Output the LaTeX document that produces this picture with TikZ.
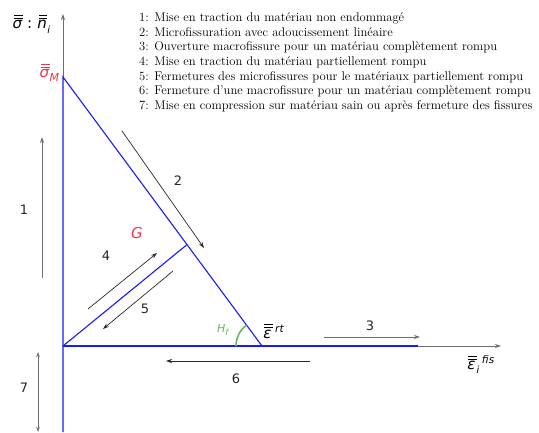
\documentclass[tikz,border=0pt]{standalone}
\usepackage{fontspec}
\newfontfamily\dvs{DejaVu Sans}
\usetikzlibrary{arrows.meta,calc}
\definecolor{bl}{RGB}{25,25,250}
\definecolor{rd}{RGB}{235,55,75}
\definecolor{gr}{RGB}{100,185,80}
\definecolor{ax}{RGB}{110,110,110}
\definecolor{ar}{RGB}{40,40,40}
\newcommand\dd[1]{\leavevmode\vbox{\offinterlineskip\halign{\hfil##\hfil\cr
  \hskip0.15em\rule{0.55em}{0.055em}\cr\noalign{\kern0.11em}
  \hskip0.15em\rule{0.55em}{0.055em}\cr\noalign{\kern0.15em}
  \itshape #1\cr}}}
\newcommand\sbx[2]{\hbox{\fontsize{#1}{#1}\selectfont\itshape #2}}
\begin{document}
\begin{tikzpicture}[x=1pt,y=-1pt,
  curve/.style={draw=bl,line width=1.1pt},
  axis/.style={draw=ax,line width=0.8pt,-{Stealth[length=6pt,width=4pt]}},
  mv/.style={draw=ar,line width=0.7pt,-{Stealth[length=6pt,width=4pt]}},
  mvg/.style={draw=ax,line width=0.9pt,-{Stealth[length=6pt,width=4pt]}},
  num/.style={font=\dvs\fontsize{13}{15}\selectfont,text=black!85,inner sep=0pt},
  leg/.style={font=\fontsize{12.6}{14}\selectfont,anchor=base west,inner sep=0pt},
  lab/.style={font=\dvs\fontsize{15}{17}\selectfont,inner sep=0pt}]
\useasboundingbox (0,0) rectangle (539,433);
% key points
\coordinate (O) at (63,346);
\coordinate (M) at (63,77);
\coordinate (R) at (262,346);
\coordinate (Gp) at (187,244.6);
\coordinate (Hend) at (418,346);
\coordinate (Bot) at (63,432);
\coordinate (Ytop) at (63,14);
\coordinate (Xend) at (501,346);
% axes
\draw[axis] (M) -- (Ytop);
\draw[axis] (Hend) -- (Xend);
% blue curves
\draw[curve] (Bot) -- (M) -- (R);
\draw[curve] (O) -- (Hend);
\draw[curve] (O) -- (Gp);
% angle
\draw[gr,line width=1.6pt] ($(R)+(-26,0)$) arc[start angle=180,end angle=233.5,radius=26];
% movement arrows
\coordinate (a1s) at (42,278); \coordinate (a1e) at (42,137);
\draw[mvg] (a1s) -- (a1e);
\coordinate (a2s) at (122,131); \coordinate (a2e) at (204,248);
\draw[mv] (a2s) -- (a2e);
\coordinate (a3s) at (324,337); \coordinate (a3e) at (420,337);
\draw[mvg] (a3s) -- (a3e);
\coordinate (a4s) at (88,309); \coordinate (a4e) at (157,253);
\draw[mv] (a4s) -- (a4e);
\coordinate (a5s) at (173,271); \coordinate (a5e) at (103,329);
\draw[mv] (a5s) -- (a5e);
\coordinate (a6s) at (310,361); \coordinate (a6e) at (166,361);
\draw[mv] (a6s) -- (a6e);
\coordinate (a7s) at (38,352); \coordinate (a7e) at (38,432);
\draw[draw=ax,line width=0.9pt,{Stealth[length=5pt,width=3.5pt]}-{Stealth[length=5pt,width=3.5pt]}] (a7s) -- (a7e);
% numbers
\node[num] (n1) at (24,210) {1};
\node[num] (n2) at (178,181) {2};
\node[num] (n3) at (370,326) {3};
\node[num] (n4) at (106,256) {4};
\node[num] (n5) at (145,309) {5};
\node[num] (n6) at (236,379) {6};
\node[num] (n7) at (24,388) {7};
% labels
\node[lab,anchor=base west] (ylab) at (12,29) {\dd{σ}\hskip0.3em:\hskip0.3em\dd{n}\raisebox{-5pt}{\sbx{10}{i}}};
\node[lab,text=rd,anchor=base west] (sM) at (39,78) {\dd{σ}\raisebox{-4pt}{\sbx{11}{M}}};
\node[lab,text=rd,font=\dvs\fontsize{15}{17}\selectfont\itshape] (G) at (137,233) {G};
\node[lab,text=gr,font=\dvs\fontsize{11}{13}\selectfont,anchor=base west] (Hf) at (217,333) {{\itshape H}\raisebox{-2pt}{\sbx{8}{f}}};
\node[lab,anchor=base west] (ert) at (262,338) {\dd{ε}\raisebox{6pt}{\,\sbx{10.5}{rt}}};
\node[lab,anchor=base west] (efis) at (466,370) {\dd{ε}\raisebox{-4pt}{\sbx{10}{i}}\raisebox{6pt}{\,\sbx{10.5}{fis}}};
% legend
\node[leg] (l1) at (139,21.5) {1: Mise en traction du matériau non endommagé};
\node[leg] (l2) at (139,36.2) {2: Microfissuration avec adoucissement linéaire};
\node[leg] (l3) at (139,50.8) {3: Ouverture macrofissure pour un matériau complètement rompu};
\node[leg] (l4) at (139,65.5) {4: Mise en traction du matériau partiellement rompu};
\node[leg] (l5) at (139,80.2) {5: Fermetures des microfissures pour le matériaux partiellement rompu};
\node[leg] (l6) at (139,94.8) {6: Fermeture d'une macrofissure pour un matériau complètement rompu};
\node[leg] (l7) at (139,109.5) {7: Mise en compression sur matériau sain ou après fermeture des fissures};
\end{tikzpicture}
\end{document}
